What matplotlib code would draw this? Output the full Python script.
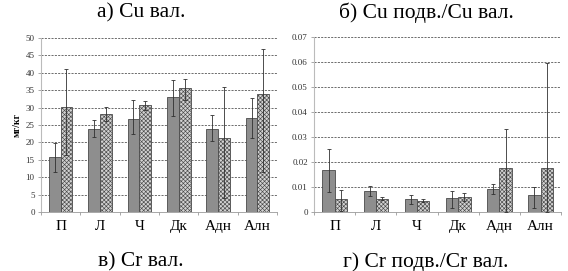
import matplotlib
matplotlib.use("Agg")
import matplotlib.pyplot as plt
import numpy as np

plt.rcParams['font.family'] = ['Liberation Serif', 'DejaVu Serif']
plt.rcParams['hatch.color'] = '#a4a4a4'
plt.rcParams['hatch.linewidth'] = 0.45

categories = ['П', 'Л', 'Ч', 'Дк', 'Адн', 'Алн']

# Left panel (Cu вал. / Cr вал.) mg/kg
left_s1 = [15.8, 23.8, 26.6, 33.0, 23.8, 27.0]
left_s1_lo = [4.3, 2.3, 4.3, 5.4, 3.3, 5.8]
left_s1_hi = [4.0, 2.5, 5.5, 4.8, 4.0, 5.8]
left_s2 = [30.1, 28.1, 30.6, 35.5, 21.2, 33.9]
left_s2_lo = [13.7, 2.1, 1.3, 3.2, 17.2, 22.4]
left_s2_hi = [11.1, 2.0, 1.3, 2.8, 14.6, 12.9]

# Right panel (ratios)
right_s1 = [0.0168, 0.0085, 0.0050, 0.0057, 0.0090, 0.0067]
right_s1_lo = [0.0088, 0.0020, 0.0017, 0.0042, 0.0017, 0.0052]
right_s1_hi = [0.0082, 0.0018, 0.0018, 0.0025, 0.0020, 0.0033]
right_s2 = [0.0050, 0.0053, 0.0045, 0.0060, 0.0174, 0.0175]
right_s2_lo = [0.0045, 0.0006, 0.0007, 0.0018, 0.0174, 0.0175]
right_s2_hi = [0.0038, 0.0005, 0.0005, 0.0015, 0.0159, 0.0419]

left_ticks = [0, 5, 10, 15, 20, 25, 30, 35, 40, 45, 50]
right_ticks = [0, 0.01, 0.02, 0.03, 0.04, 0.05, 0.06, 0.07]
right_ticklabels = ['0', '0.01', '0.02', '0.03', '0.04', '0.05', '0.06', '0.07']

fig = plt.figure(figsize=(5.68, 2.71), dpi=100)
axL = fig.add_axes([0.072, 0.218, 0.416, 0.642])
axR = fig.add_axes([0.553, 0.218, 0.435, 0.646])

x = np.arange(len(categories))
w = 0.3

def draw(ax, s1, lo1, hi1, s2, lo2, hi2, ymax, ticks, ticklabels):
    ax.bar(x - w/2, s1, w, color='#8e8e8e', edgecolor='#4a4a4a', linewidth=0.6, zorder=3)
    ax.bar(x + w/2, s2, w, color='#d2d2d2', edgecolor='#4a4a4a', linewidth=0.6,
           hatch='xxxxxxxx', zorder=3)
    ax.errorbar(x - w/2, s1, yerr=[lo1, hi1], fmt='none', ecolor='#303030',
                elinewidth=0.6, capsize=1.5, capthick=0.6, zorder=4)
    ax.errorbar(x + w/2, s2, yerr=[lo2, hi2], fmt='none', ecolor='#303030',
                elinewidth=0.6, capsize=1.5, capthick=0.6, zorder=4)
    ax.set_xlim(-0.5, len(categories) - 0.5)
    ax.set_ylim(0, ymax)
    ax.set_yticks(ticks)
    ax.set_yticklabels(ticklabels, fontsize=6.5, color='#333333')
    ax.set_xticks(x)
    ax.set_xticklabels(categories, fontsize=11)
    ax.tick_params(axis='x', length=0, pad=6)
    ax.set_xticks(np.arange(-0.5, len(categories) + 0.5, 1), minor=True)
    ax.tick_params(axis='x', which='minor', length=2.5, width=0.6, color='#999999', direction='out')
    ax.tick_params(axis='y', length=2.5, width=0.6, color='#999999', pad=2)
    ax.yaxis.grid(True, linestyle=(0, (2.5, 1.5)), color='#555555', linewidth=0.6, zorder=0)
    ax.set_axisbelow(True)
    for side in ['top', 'right']:
        ax.spines[side].set_visible(False)
    ax.spines['left'].set_color('#bbbbbb')
    ax.spines['bottom'].set_color('#999999')
    ax.spines['left'].set_linewidth(0.8)
    ax.spines['bottom'].set_linewidth(0.6)

draw(axL, left_s1, left_s1_lo, left_s1_hi, left_s2, left_s2_lo, left_s2_hi,
     50, left_ticks, [str(t) for t in left_ticks])
draw(axR, right_s1, right_s1_lo, right_s1_hi, right_s2, right_s2_lo, right_s2_hi,
     0.07, right_ticks, right_ticklabels)

axL.set_ylabel('мг/кг', fontsize=7, fontweight='bold', labelpad=3)

fig.text(0.248, 0.952, 'а) Cu вал.', ha='center', va='center', fontsize=15.5)
fig.text(0.75, 0.952, 'б) Cu подв./Cu вал.', ha='center', va='center', fontsize=15.5)
fig.text(0.248, 0.033, 'в) Cr вал.', ha='center', va='center', fontsize=15.5)
fig.text(0.75, 0.033, 'г) Cr подв./Cr вал.', ha='center', va='center', fontsize=15.5)

fig.savefig('out.png', dpi=100)
